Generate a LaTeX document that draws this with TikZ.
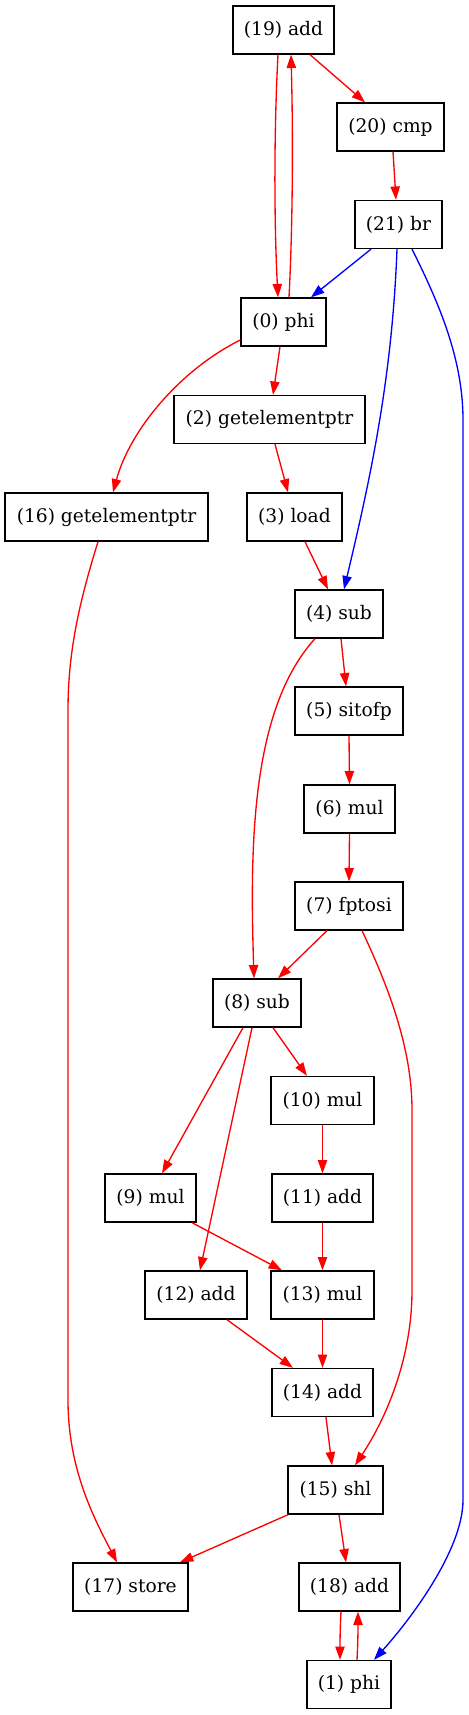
\documentclass[tikz,border=0pt]{standalone}
\usepackage{fontspec}
\setmainfont{DejaVu Serif}
\usetikzlibrary{arrows.meta,calc}
\begin{document}
\begin{tikzpicture}[x=0.75pt,y=-0.75pt,
  box/.style={draw=black,line width=1pt,minimum height=36pt,inner sep=0pt,font=\fontsize{14pt}{16pt}\selectfont},
  re/.style={red,line width=1pt,-{Triangle[length=10pt,width=7pt]}},
  be/.style={blue,line width=1pt,-{Triangle[length=10pt,width=7pt]}}]
\useasboundingbox (0,0) rectangle (468,1715);
\node[box,minimum width=75.75pt] (n19) at (283.5,30) {(19) add};
\node[box,minimum width=80.25pt] (n20) at (390.5,127) {(20) cmp};
\node[box,minimum width=65.25pt] (n21) at (398.5,224.5) {(21) br};
\node[box,minimum width=63.75pt] (n0) at (283.5,322) {(0) phi};
\node[box,minimum width=143.25pt] (n2) at (269.5,419.5) {(2) getelementptr};
\node[box,minimum width=152.25pt] (n16) at (106.5,517) {(16) getelementptr};
\node[box,minimum width=71.25pt] (n3) at (294.5,517) {(3) load};
\node[box,minimum width=66pt] (n4) at (339,614) {(4) sub};
\node[box,minimum width=81pt] (n5) at (349,711) {(5) sitofp};
\node[box,minimum width=68.25pt] (n6) at (349.5,809) {(6) mul};
\node[box,minimum width=81pt] (n7) at (349,906) {(7) fptosi};
\node[box,minimum width=66pt] (n8) at (257,1003) {(8) sub};
\node[box,minimum width=77.25pt] (n10) at (322.5,1100.5) {(10) mul};
\node[box,minimum width=68.25pt] (n9) at (150.5,1198) {(9) mul};
\node[box,minimum width=75.75pt] (n11) at (322.5,1198) {(11) add};
\node[box,minimum width=76.5pt] (n12) at (196,1295) {(12) add};
\node[box,minimum width=77.25pt] (n13) at (322.5,1295) {(13) mul};
\node[box,minimum width=75.75pt] (n14) at (322.5,1392.5) {(14) add};
\node[box,minimum width=71.25pt] (n15) at (335.5,1490) {(15) shl};
\node[box,minimum width=86.25pt] (n17) at (130.5,1587) {(17) store};
\node[box,minimum width=75.75pt] (n18) at (349.5,1587) {(18) add};
\node[box,minimum width=63pt] (n1) at (349,1684.5) {(1) phi};

\draw[re] ($(n19.south)+(-5.5,0)$) .. controls (274,130) and (274,220) .. ($(n0.north)+(-5.5,0)$);
\draw[re] ($(n0.north)+(5.5,0)$) .. controls (293,220) and (293,130) .. ($(n19.south)+(7.5,0)$);
\draw[re] ($(n19.south)+(26.5,0)$) -- ($(n20.north)+(-25.5,0)$);
\draw[re] ($(n20.south)+(2.5,0)$) -- ($(n21.north)+(-2.5,0)$);
\draw[be] ($(n21.south)+(-27.5,0)$) -- ($(n0.north)+(27.5,0)$);
\draw[be] ($(n21.south)+(-1.5,0)$) .. controls (392,380) and (370,480) .. ($(n4.north)+(5,0)$);
\draw[be] ($(n21.south)+(13.5,0)$) .. controls (440,305) and (463,360) .. (463,420) -- (463,1500) .. controls (463,1550) and (410,1620) .. ($(n1.north)+(25,0)$);
\draw[re] ($(n0.south)+(-3.5,0)$) -- ($(n2.north)+(3.5,0)$);
\draw[re] ($(n0.west)+(0,18)$) .. controls (180,370) and (130,430) .. ($(n16.north)+(6.5,0)$);
\draw[re] ($(n2.south)+(5.5,0)$) -- ($(n3.north)+(-6.5,0)$);
\draw[re] ($(n3.south)+(10.5,0)$) -- ($(n4.north)+(-11,0)$);
\draw[re] ($(n16.south)+(-8.5,0)$) .. controls (80,600) and (68,650) .. (68,710) -- (68,1400) .. controls (68,1470) and (95,1520) .. ($(n17.north)+(-13.5,0)$);
\draw[re] ($(n4.south)+(-24,0)$) .. controls (250,710) and (250,850) .. ($(n8.north)+(-3,0)$);
\draw[re] ($(n4.south)+(2,0)$) -- ($(n5.north)+(-3,0)$);
\draw[re] (n5.south) -- (n6.north);
\draw[re] (n6.south) -- (n7.north);
\draw[re] ($(n7.south)+(-22,0)$) -- ($(n8.north)+(21,0)$);
\draw[re] ($(n7.south)+(13,0)$) .. controls (390,990) and (412,1050) .. (412,1110) -- (412,1290) .. controls (412,1360) and (385,1420) .. ($(n15.north)+(19.5,0)$);
\draw[re] ($(n8.south)+(-14,0)$) -- ($(n9.north)+(11.5,0)$);
\draw[re] ($(n8.south)+(-5,0)$) -- ($(n12.north)+(4,0)$);
\draw[re] ($(n8.south)+(16,0)$) -- ($(n10.north)+(-15.5,0)$);
\draw[re] (n10.south) -- (n11.north);
\draw[re] ($(n9.south)+(41.5,0)$) -- ($(n13.north)+(-40.5,0)$);
\draw[re] (n11.south) -- (n13.north);
\draw[re] ($(n12.south)+(31,0)$) -- ($(n14.north)+(-29.5,0)$);
\draw[re] (n13.south) -- (n14.north);
\draw[re] ($(n14.south)+(3.5,0)$) -- ($(n15.north)+(-3.5,0)$);
\draw[re] ($(n15.south)+(-47.5,0)$) -- ($(n17.north)+(49.5,0)$);
\draw[re] ($(n15.south)+(3.5,0)$) -- ($(n18.north)+(-3.5,0)$);
\draw[re] ($(n18.south)+(-8.5,0)$) .. controls (340,1630) and (340,1645) .. ($(n1.north)+(-9,0)$);
\draw[re] ($(n1.north)+(8,0)$) .. controls (358,1640) and (358,1630) .. ($(n18.south)+(8.5,0)$);
\end{tikzpicture}
\end{document}
